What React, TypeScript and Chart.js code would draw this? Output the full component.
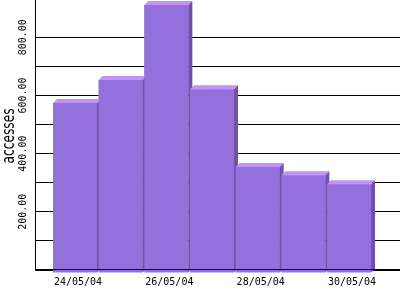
import React, { useEffect, useRef } from "react";
import { Chart, registerables } from "chart.js";

Chart.register(...registerables);

const categories = ["24/05/04", "25/05/04", "26/05/04", "27/05/04", "28/05/04", "29/05/04", "30/05/04"];
const accesses = [574, 653, 911, 621, 354, 326, 295];
const yLabelValues = [200, 400, 600, 800];
const xLabelIndexes = [0, 2, 4, 6];
const yTitle = "accesses";

const FRONT = "#9370DB";
const TOP = "#C192F9";
const SIDE = "#6F52A8";
const DEPTH = 4;

const bars3d = {
  id: "bars3d",
  afterDatasetsDraw(chart: any) {
    const ctx = chart.ctx;
    const meta = chart.getDatasetMeta(0);
    ctx.save();
    meta.data.forEach((el: any) => {
      const w = el.width;
      const x0 = el.x - w / 2;
      const x1 = el.x + w / 2;
      const yT = el.y;
      const yB = el.base + 3;
      ctx.fillStyle = FRONT;
      ctx.fillRect(x0, yT, w, yB - yT);
      ctx.fillStyle = TOP;
      ctx.beginPath();
      ctx.moveTo(x0, yT);
      ctx.lineTo(x0 + DEPTH, yT - DEPTH);
      ctx.lineTo(x1 + DEPTH, yT - DEPTH);
      ctx.lineTo(x1, yT);
      ctx.closePath();
      ctx.fill();
      ctx.fillStyle = SIDE;
      ctx.beginPath();
      ctx.moveTo(x1, yT);
      ctx.lineTo(x1 + DEPTH, yT - DEPTH);
      ctx.lineTo(x1 + DEPTH, yB - DEPTH);
      ctx.lineTo(x1, yB);
      ctx.closePath();
      ctx.fill();
    });
    const a = chart.chartArea;
    ctx.strokeStyle = "#000";
    ctx.lineWidth = 1;
    ctx.beginPath();
    ctx.moveTo(a.left, Math.round(a.bottom) - 0.5);
    ctx.lineTo(a.right, Math.round(a.bottom) - 0.5);
    ctx.stroke();

    // y tick labels (rotated)
    const ys = chart.scales.y;
    ctx.fillStyle = "#000";
    ctx.font = "10px 'DejaVu Sans Mono'";
    ctx.textAlign = "center";
    ctx.textBaseline = "alphabetic";
    yLabelValues.forEach((v) => {
      const py = ys.getPixelForValue(v);
      ctx.save();
      ctx.translate(26, py);
      ctx.rotate(-Math.PI / 2);
      ctx.fillText(v.toFixed(2), 0, 0);
      ctx.restore();
    });
    // y title
    ctx.save();
    ctx.translate(14, 136);
    ctx.rotate(-Math.PI / 2);
    ctx.scale(0.68, 1);
    ctx.font = "18px 'DejaVu Sans'";
    ctx.fillText(yTitle, 0, 0);
    ctx.restore();
    ctx.restore();
  },
};

export default function App() {
  const ref = useRef<HTMLCanvasElement>(null);
  useEffect(() => {
    document.body.style.margin = "0";
    const chart = new Chart(ref.current!, {
      type: "bar",
      data: {
        datasets: [
          {
            data: accesses.map((v, i) => ({ x: i, y: v })),
            backgroundColor: FRONT,
            borderWidth: 0,
            barPercentage: 0.963,
            categoryPercentage: 1,
          },
        ],
      },
      options: {
        responsive: false,
        animation: false,
        layout: { padding: 0 },
        plugins: { legend: { display: false }, tooltip: { enabled: false } },
        scales: {
          x: {
            type: "linear",
            offset: false,
            min: -0.876,
            max: 7.116,
            grid: { display: false, drawTicks: false, offset: false },
            border: { color: "#000", width: 1 },
            afterBuildTicks: (s: any) => {
              s.ticks = xLabelIndexes.map((v) => ({ value: v }));
            },
            afterFit: (s: any) => {
              s.height = 30;
            },
            ticks: {
              autoSkip: false,
              maxRotation: 0,
              minRotation: 0,
              labelOffset: 3,
              padding: 6,
              color: "#000",
              font: { family: "'DejaVu Sans Mono'", size: 10 },
              callback: (v: any) => categories[v] ?? "",
            },
          },
          y: {
            min: 0,
            max: 928,
            afterBuildTicks: (s: any) => {
              s.ticks = s.ticks.filter((t: any) => t.value % 100 === 0);
            },
            afterFit: (s: any) => {
              s.width = 35;
            },
            grid: { color: "#000", lineWidth: 1, drawTicks: false },
            border: { color: "#000", width: 1 },
            ticks: { display: false, stepSize: 100 },
          },
        },
      },
      plugins: [bars3d],
    });
    return () => chart.destroy();
  }, []);
  return <canvas ref={ref} width={400} height={300} style={{ display: "block", width: 400, height: 300 }} />;
}
